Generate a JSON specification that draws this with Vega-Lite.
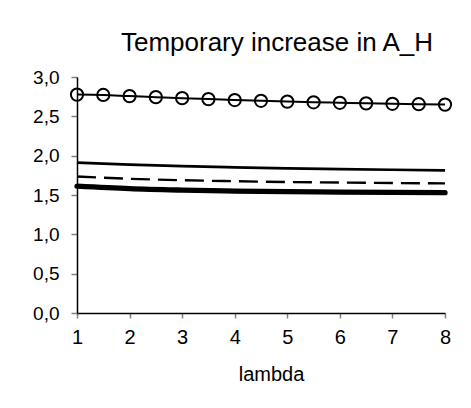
{
  "$schema": "https://vega.github.io/schema/vega-lite/v6.json",
  "autosize": {"type": "none"},
  "width": 368,
  "height": 236,
  "padding": {"left": 77, "top": 77, "right": 26, "bottom": 95},
  "background": "white",
  "title": {
    "text": "Temporary increase in A_H",
    "font": "Liberation Sans",
    "fontSize": 26,
    "fontWeight": "normal",
    "color": "black",
    "anchor": "middle",
    "frame": "group",
    "baseline": "alphabetic",
    "dx": 16,
    "offset": -9
  },
  "config": {
    "locale": {"number": {"decimal": ",", "thousands": ".", "grouping": [3], "currency": ["", " €"]}},
    "view": {"stroke": null},
    "font": "Liberation Sans"
  },
  "data": {
    "values": [
      {"lambda": 1, "value": 2.776, "series": "A"},
      {"lambda": 1.5, "value": 2.772, "series": "A"},
      {"lambda": 2, "value": 2.757, "series": "A"},
      {"lambda": 2.5, "value": 2.744, "series": "A"},
      {"lambda": 3, "value": 2.731, "series": "A"},
      {"lambda": 3.5, "value": 2.719, "series": "A"},
      {"lambda": 4, "value": 2.707, "series": "A"},
      {"lambda": 4.5, "value": 2.697, "series": "A"},
      {"lambda": 5, "value": 2.687, "series": "A"},
      {"lambda": 5.5, "value": 2.679, "series": "A"},
      {"lambda": 6, "value": 2.672, "series": "A"},
      {"lambda": 6.5, "value": 2.665, "series": "A"},
      {"lambda": 7, "value": 2.659, "series": "A"},
      {"lambda": 7.5, "value": 2.654, "series": "A"},
      {"lambda": 8, "value": 2.649, "series": "A"},
      {"lambda": 1, "value": 1.912, "series": "B"},
      {"lambda": 2, "value": 1.885, "series": "B"},
      {"lambda": 3, "value": 1.866, "series": "B"},
      {"lambda": 4, "value": 1.851, "series": "B"},
      {"lambda": 5, "value": 1.839, "series": "B"},
      {"lambda": 6, "value": 1.829, "series": "B"},
      {"lambda": 7, "value": 1.821, "series": "B"},
      {"lambda": 8, "value": 1.814, "series": "B"},
      {"lambda": 1, "value": 1.735, "series": "C"},
      {"lambda": 2, "value": 1.706, "series": "C"},
      {"lambda": 3, "value": 1.688, "series": "C"},
      {"lambda": 4, "value": 1.675, "series": "C"},
      {"lambda": 5, "value": 1.665, "series": "C"},
      {"lambda": 6, "value": 1.658, "series": "C"},
      {"lambda": 7, "value": 1.652, "series": "C"},
      {"lambda": 8, "value": 1.648, "series": "C"},
      {"lambda": 1, "value": 1.612, "series": "D"},
      {"lambda": 2, "value": 1.580, "series": "D"},
      {"lambda": 3, "value": 1.562, "series": "D"},
      {"lambda": 4, "value": 1.550, "series": "D"},
      {"lambda": 5, "value": 1.542, "series": "D"},
      {"lambda": 6, "value": 1.537, "series": "D"},
      {"lambda": 7, "value": 1.533, "series": "D"},
      {"lambda": 8, "value": 1.530, "series": "D"}
    ]
  },
  "encoding": {
    "x": {
      "field": "lambda",
      "type": "quantitative",
      "scale": {"domain": [1, 8], "nice": false, "zero": false},
      "axis": {
        "title": "lambda",
        "values": [1, 2, 3, 4, 5, 6, 7, 8],
        "format": "d",
        "grid": false,
        "labelFlush": false,
        "domainColor": "black",
        "domainWidth": 1.5,
        "tickColor": "#808080",
        "tickSize": 5,
        "tickWidth": 1.5,
        "labelFontSize": 20,
        "labelColor": "black",
        "labelPadding": 9,
        "labelFont": "Liberation Sans",
        "titleFont": "Liberation Sans",
        "titleFontSize": 20,
        "titleFontWeight": "normal",
        "titleColor": "black",
        "titlePadding": 17,
        "titleX": 194
      }
    },
    "y": {
      "field": "value",
      "type": "quantitative",
      "scale": {"domain": [0, 3], "nice": false},
      "axis": {
        "title": null,
        "values": [0, 0.5, 1, 1.5, 2, 2.5, 3],
        "format": ".1f",
        "grid": false,
        "domainColor": "black",
        "domainWidth": 1.5,
        "tickColor": "#808080",
        "tickSize": 6,
        "tickWidth": 1.5,
        "labelFontSize": 19,
        "labelColor": "black",
        "labelPadding": 12,
        "labelFont": "Liberation Sans"
      }
    }
  },
  "layer": [
    {
      "transform": [{"filter": "datum.series === 'A'"}],
      "mark": {"type": "line", "color": "black", "strokeWidth": 2, "interpolate": "monotone"}
    },
    {
      "transform": [{"filter": "datum.series === 'B'"}],
      "mark": {"type": "line", "color": "black", "strokeWidth": 2.7, "interpolate": "monotone"}
    },
    {
      "transform": [{"filter": "datum.series === 'C'"}],
      "mark": {"type": "line", "color": "black", "strokeWidth": 2.4, "strokeDash": [19, 8], "interpolate": "monotone"}
    },
    {
      "transform": [{"filter": "datum.series === 'D'"}],
      "mark": {"type": "line", "color": "black", "strokeWidth": 5.3, "strokeCap": "round", "interpolate": "monotone"}
    },
    {
      "transform": [{"filter": "datum.series === 'A'"}],
      "mark": {"type": "point", "shape": "circle", "filled": false, "stroke": "black", "strokeWidth": 2, "size": 150, "opacity": 1}
    }
  ]
}
